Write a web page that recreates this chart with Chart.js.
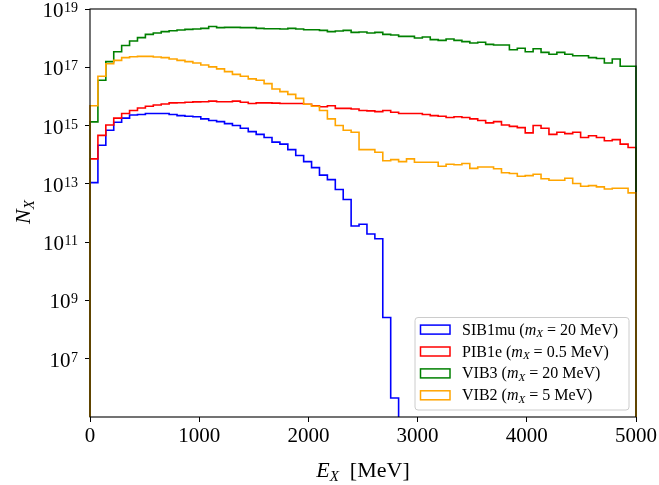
<!DOCTYPE html>
<html>
<head>
<meta charset="utf-8">
<script src="https://cdn.jsdelivr.net/npm/chart.js@4.4.1/dist/chart.umd.min.js"></script>
<style>
  body { margin: 0; background: #fff; }
  #wrap { width: 659px; height: 485px; }
</style>
</head>
<body>
<div id="wrap"><canvas id="histChart"></canvas></div>
<script>
// histogram binning: 69 equal bins over 0..5000 MeV
const eMin = 0;
const eMax = 5000;
const nBins = 69;

// per-bin counts N_X, left to right
const sib1mu = [
  1.1e13, 2.1e14, 6.9e14, 1.3e15, 1.8e15, 2.3e15, 2.4e15, 2.6e15, 2.6e15, 2.6e15,
  2.4e15, 2.2e15, 2.1e15, 2.0e15, 1.7e15, 1.5e15, 1.37e15, 1.17e15, 1.0e15, 8.1e14,
  6.2e14, 5.0e14, 3.9e14, 2.7e14, 2.3e14, 1.5e14, 9.4e13, 5.8e13, 3.6e13, 2.0e13,
  1.4e13, 6.4e12, 2.9e12, 3.6e11, 4.1e11, 1.9e11, 1.3e11, 2.6e8, 4.5e5, 0,
  0, 0, 0, 0, 0, 0, 0, 0, 0, 0,
  0, 0, 0, 0, 0, 0, 0, 0, 0, 0,
  0, 0, 0, 0, 0, 0, 0, 0, 0
];
const pib1e = [
  7.2e13, 4.6e14, 1.05e15, 1.8e15, 2.6e15, 3.3e15, 4.0e15, 4.6e15, 5.1e15, 5.5e15,
  6.0e15, 6.1e15, 6.3e15, 6.5e15, 6.6e15, 6.9e15, 6.6e15, 6.6e15, 6.9e15, 6.3e15,
  5.7e15, 6.0e15, 6.0e15, 5.9e15, 5.7e15, 5.7e15, 5.7e15, 5.4e15, 4.8e15, 4.4e15,
  4.8e15, 3.9e15, 3.9e15, 3.7e15, 3.3e15, 3.2e15, 3.0e15, 3.3e15, 2.85e15, 2.6e15,
  2.6e15, 2.6e15, 2.4e15, 2.2e15, 2.1e15, 1.9e15, 2.0e15, 1.9e15, 1.7e15, 1.5e15,
  1.24e15, 1.37e15, 1.05e15, 9.4e14, 8.5e14, 5.6e14, 1.0e15, 8.1e14, 5.0e14, 5.9e14,
  5.3e14, 5.9e14, 3.9e14, 4.5e14, 3.9e14, 3.0e14, 3.3e14, 2.3e14, 1.76e14
];
const vib3 = [
  1.34e15, 3.6e16, 1.56e17, 3.4e17, 5.6e17, 8.0e17, 1.04e18, 1.35e18, 1.5e18, 1.67e18,
  1.8e18, 1.9e18, 2.0e18, 2.06e18, 2.16e18, 2.5e18, 2.3e18, 2.34e18, 2.34e18, 2.3e18,
  2.3e18, 2.16e18, 2.1e18, 2.1e18, 2.06e18, 2.16e18, 2.06e18, 1.95e18, 1.95e18, 1.85e18,
  1.67e18, 1.76e18, 1.85e18, 1.58e18, 1.63e18, 1.5e18, 1.58e18, 1.35e18, 1.28e18, 1.15e18,
  1.15e18, 1.01e18, 1.1e18, 8.9e17, 8.4e17, 9.4e17, 8.4e17, 7.6e17, 6.8e17, 7.2e17,
  6.1e17, 5.8e17, 5.8e17, 4.0e17, 4.5e17, 3.4e17, 4.3e17, 3.25e17, 2.8e17, 3.25e17,
  2.8e17, 2.5e17, 2.5e17, 2.14e17, 2.0e17, 1.4e17, 1.93e17, 1.08e17, 1.08e17
];
const vib2 = [
  4.8e15, 4.9e16, 1.33e17, 1.73e17, 2.14e17, 2.3e17, 2.37e17, 2.37e17, 2.26e17, 2.14e17,
  1.93e17, 1.73e17, 1.56e17, 1.4e17, 1.2e17, 1.03e17, 8.8e16, 7.1e16, 5.7e16, 4.9e16,
  4.0e16, 3.6e16, 2.75e16, 1.8e16, 1.46e16, 1.18e16, 8.6e15, 5.4e15, 4.6e15, 3.3e15,
  1.7e15, 1.0e15, 6.9e14, 5.9e14, 1.5e14, 1.5e14, 1.21e14, 6.2e13, 6.8e13, 5.8e13,
  7.2e13, 5.5e13, 5.5e13, 5.5e13, 4.0e13, 4.7e13, 4.5e13, 5.0e13, 3.4e13, 3.8e13,
  3.8e13, 3.3e13, 2.4e13, 2.26e13, 1.82e13, 1.92e13, 2.14e13, 1.49e13, 1.33e13, 1.33e13,
  1.56e13, 1.03e13, 8.3e12, 8.7e12, 7.9e12, 6.7e12, 7.1e12, 7.1e12, 4.9e12
];

const seriesNames = ['SIB1mu', 'PIB1e', 'VIB3', 'VIB2'];
const seriesMasses = ['20', '0.5', '20', '5'];
const seriesColors = ['#0000ff', '#ff0000', '#008000', '#ffa500'];
const seriesCounts = [sib1mu, pib1e, vib3, vib2];

const xTicks = [0, 1000, 2000, 3000, 4000, 5000];
const yExponents = [7, 9, 11, 13, 15, 17, 19];
const yMin = 1e5;
const yMax = 1e19;

const SERIF = '"Liberation Serif", "DejaVu Serif", serif';

// step outline of a histogram; empty bins drop below the axis
function stepOutline(counts) {
  const w = (eMax - eMin) / nBins;
  const floor = 1;
  const pts = [{ x: eMin, y: floor }];
  counts.forEach((c, k) => {
    const v = c > 0 ? c : floor;
    pts.push({ x: eMin + k * w, y: v });
    pts.push({ x: eMin + (k + 1) * w, y: v });
  });
  pts.push({ x: eMax, y: floor });
  return pts;
}

// draw a run of text pieces (italic / subscript) on one baseline
function richText(ctx, parts, x, y, align) {
  const fontOf = p => (p.it ? 'italic ' : '') + p.size + 'px ' + SERIF;
  let total = 0;
  parts.forEach(p => { ctx.font = fontOf(p); total += ctx.measureText(p.t).width; });
  let cx = align === 'center' ? x - total / 2 : align === 'right' ? x - total : x;
  ctx.textAlign = 'left';
  ctx.textBaseline = 'alphabetic';
  parts.forEach(p => {
    ctx.font = fontOf(p);
    ctx.fillText(p.t, cx, y + (p.dy || 0));
    cx += ctx.measureText(p.t).width;
  });
}

const decorations = {
  id: 'decorations',
  afterDraw(chart) {
    const { ctx, chartArea: a, scales } = chart;
    ctx.save();
    ctx.fillStyle = '#000';

    // frame around the plot
    ctx.strokeStyle = '#000';
    ctx.lineWidth = 1.1;
    ctx.strokeRect(a.left, a.top, a.right - a.left, a.bottom - a.top);

    // y tick labels as powers of ten
    yExponents.forEach(e => {
      const py = scales.y.getPixelForValue(Math.pow(10, e));
      const exp = String(e);
      ctx.font = '14px ' + SERIF;
      const we = ctx.measureText(exp).width;
      const right = a.left - 12;
      ctx.textAlign = 'left';
      ctx.fillText(exp, right - we, py + 3);
      ctx.font = '21px ' + SERIF;
      ctx.textAlign = 'right';
      ctx.fillText('10', right - we - 0.5, py + 8);
    });

    // axis titles
    richText(ctx, [
      { t: 'E', size: 22, it: true },
      { t: 'X', size: 15, it: true, dy: 3.5 },
      { t: '  [MeV]', size: 22 }
    ], (a.left + a.right) / 2, 477, 'center');

    ctx.save();
    ctx.translate(30, 212);
    ctx.rotate(-Math.PI / 2);
    richText(ctx, [
      { t: 'N', size: 22, it: true },
      { t: 'X', size: 15, it: true, dy: 3.5 }
    ], 0, 0, 'center');
    ctx.restore();

    // legend box, lower right
    const bx = 415, by = 317.5, bw = 214, bh = 92.5;
    ctx.beginPath();
    ctx.roundRect(bx, by, bw, bh, 3);
    ctx.fillStyle = 'rgba(255,255,255,0.8)';
    ctx.fill();
    ctx.strokeStyle = '#cccccc';
    ctx.lineWidth = 1;
    ctx.stroke();

    chart.data.datasets.forEach((ds, i) => {
      const cy = 329.6 + i * 21.9;
      ctx.strokeStyle = ds.borderColor;
      ctx.lineWidth = 1.5;
      ctx.strokeRect(420.5, cy - 4.5, 29.5, 9);
      ctx.fillStyle = '#000';
      richText(ctx, [
        { t: ds.label + ' (', size: 16 },
        { t: 'm', size: 16, it: true },
        { t: 'X', size: 11, it: true, dy: 2.5 },
        { t: ' = ' + seriesMasses[i] + ' MeV)', size: 16 }
      ], 462, cy + 5, 'left');
    });

    ctx.restore();
  }
};

const datasets = seriesNames.map((name, i) => ({
  label: name,
  data: stepOutline(seriesCounts[i]),
  borderColor: seriesColors[i],
  backgroundColor: seriesColors[i],
  borderWidth: 1.6,
  pointRadius: 0,
  fill: false,
  tension: 0,
  order: seriesNames.length - 1 - i,
  clip: { left: 2, right: 2, top: 0, bottom: 0 }
}));

new Chart(document.getElementById('histChart'), {
  type: 'line',
  data: { datasets },
  options: {
    responsive: true,
    maintainAspectRatio: false,
    devicePixelRatio: 1,
    animation: false,
    layout: { padding: { left: 0, top: 9, right: 22, bottom: 0 } },
    plugins: {
      legend: { display: false },
      tooltip: { enabled: false }
    },
    scales: {
      x: {
        type: 'linear',
        min: eMin,
        max: eMax,
        afterBuildTicks: s => { s.ticks = xTicks.map(v => ({ value: v })); },
        afterFit: s => { s.height = 68; },
        ticks: {
          color: '#000',
          font: { family: SERIF, size: 21 },
          padding: 2,
          maxRotation: 0,
          autoSkip: false,
          callback: v => String(v)
        },
        grid: { drawOnChartArea: false, drawTicks: true, tickLength: 5, color: '#000', lineWidth: 1 },
        border: { display: false }
      },
      y: {
        type: 'logarithmic',
        min: yMin,
        max: yMax,
        afterBuildTicks: s => { s.ticks = yExponents.map(e => ({ value: Math.pow(10, e) })); },
        afterFit: s => { s.width = 90; },
        ticks: { display: false },
        grid: { drawOnChartArea: false, drawTicks: true, tickLength: 5, color: '#000', lineWidth: 1 },
        border: { display: false }
      }
    }
  },
  plugins: [decorations]
});
</script>
</body>
</html>
